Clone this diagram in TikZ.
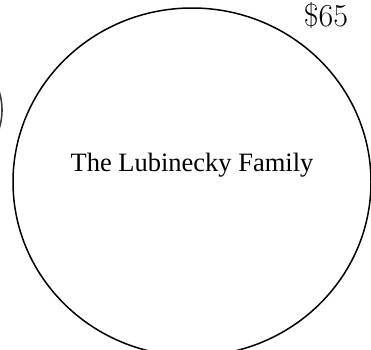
\documentclass[tikz,border=0pt]{standalone}
\usepackage{fontspec}
\setmainfont{Liberation Serif}
\newfontfamily\pricefont{Latin Modern Roman}
\begin{document}
\begin{tikzpicture}[x=1pt,y=-1pt]
            \useasboundingbox(0,0)rectangle(371,349);
            \clip(0,0)rectangle(371,349);
            \coordinate(O)at(192,182);
            %家族の円
            \path[draw,line width=1.5pt](O)ellipse[x radius=179,y radius=174];
            \node(family)at(192,165){\fontsize{26.5}{30}\selectfont The Lubinecky Family};
            %金額
            \node[anchor=base,inner sep=0pt](price)at(326,26){\pricefont\fontsize{32}{36}\selectfont\$65};
            %となりの円
            \path[draw,line width=1.6pt,black!75](-60,110)circle[radius=62];
        \end{tikzpicture}
\end{document}
